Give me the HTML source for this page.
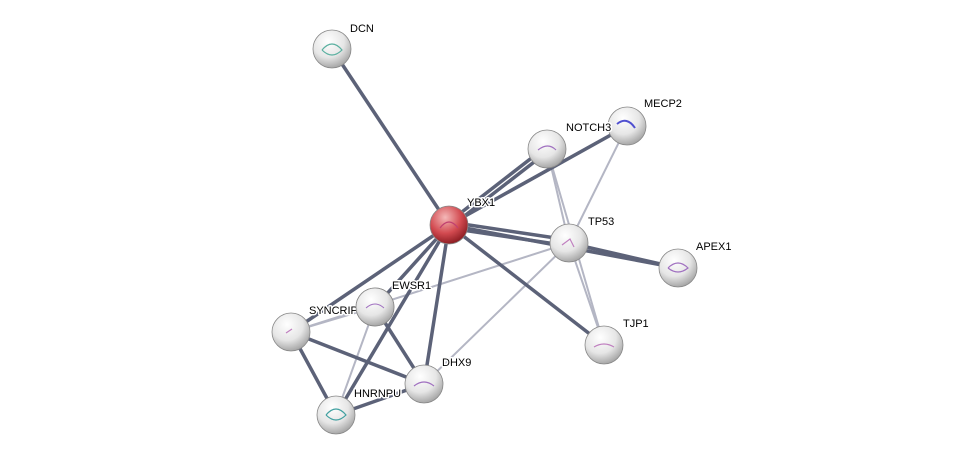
<!DOCTYPE html>
<html><head><style>
html,body{margin:0;padding:0;background:#fff;}
svg{display:block}
text{font-family:"Liberation Sans",sans-serif;font-size:11px;fill:#000;stroke:#fff;stroke-width:3px;paint-order:stroke;stroke-linejoin:round;}
</style></head><body>
<svg width="976" height="460" viewBox="0 0 976 460" xmlns="http://www.w3.org/2000/svg">
<defs>
<radialGradient id="g" cx="40%" cy="30%" r="70%">
<stop offset="0" stop-color="#ffffff"/><stop offset="0.6" stop-color="#e6e6e6"/><stop offset="1" stop-color="#a8a8a8"/>
</radialGradient>
<radialGradient id="r" cx="40%" cy="30%" r="70%">
<stop offset="0" stop-color="#f4b8b8"/><stop offset="0.6" stop-color="#d24a50"/><stop offset="1" stop-color="#8e1e24"/>
</radialGradient>
</defs>
<g stroke="#b4b6c4" stroke-width="2" fill="none">
<line x1="547" y1="149" x2="569" y2="243"/>
<line x1="547" y1="149" x2="604" y2="345"/>
<line x1="627" y1="126" x2="569" y2="243"/>
<line x1="569" y1="243" x2="604" y2="345"/>
<line x1="569" y1="243" x2="424" y2="384"/>
<line x1="569" y1="243" x2="291" y2="332"/>
<line x1="375" y1="307" x2="291" y2="332"/>
<line x1="375" y1="307" x2="336" y2="415"/>
</g>
<g stroke="#5c6278" stroke-width="3.5" fill="none">
<line x1="449" y1="225" x2="332" y2="49"/>
<line x1="449" y1="222" x2="547" y2="146"/>
<line x1="449" y1="228" x2="547" y2="152"/>
<line x1="449" y1="225" x2="627" y2="126"/>
<line x1="449" y1="222" x2="569" y2="240"/>
<line x1="449" y1="228" x2="569" y2="246"/>
<line x1="449" y1="225" x2="678" y2="268"/>
<line x1="569" y1="243" x2="678" y2="268"/>
<line x1="449" y1="225" x2="604" y2="345"/>
<line x1="449" y1="225" x2="291" y2="332"/>
<line x1="449" y1="225" x2="375" y2="307"/>
<line x1="449" y1="225" x2="336" y2="415"/>
<line x1="449" y1="225" x2="424" y2="384"/>
<line x1="291" y1="332" x2="424" y2="384"/>
<line x1="291" y1="332" x2="336" y2="415"/>
<line x1="375" y1="307" x2="424" y2="384"/>
<line x1="336" y1="415" x2="424" y2="384"/>
</g>
<g stroke="#888" stroke-width="0.8">
<circle cx="332" cy="49" r="19" fill="url(#g)"/>
<circle cx="547" cy="149" r="19" fill="url(#g)"/>
<circle cx="627" cy="126" r="19" fill="url(#g)"/>
<circle cx="569" cy="243" r="19" fill="url(#g)"/>
<circle cx="678" cy="268" r="19" fill="url(#g)"/>
<circle cx="604" cy="345" r="19" fill="url(#g)"/>
<circle cx="291" cy="332" r="19" fill="url(#g)"/>
<circle cx="375" cy="307" r="19" fill="url(#g)"/>
<circle cx="424" cy="384" r="19" fill="url(#g)"/>
<circle cx="336" cy="415" r="19" fill="url(#g)"/>
<circle cx="449" cy="225" r="19" fill="url(#r)"/>
</g>
<g fill="none" stroke-width="1.2">
<path d="M322 50 q10 -12 20 0 q-10 10 -20 0" stroke="#5ab0a0"/>
<path d="M538 150 q10 -8 18 0" stroke="#a070c0"/>
<path d="M617 124 q10 -8 18 4" stroke="#5050d0" stroke-width="2"/>
<path d="M562 245 l8 -6 l4 8" stroke="#c080c0"/>
<path d="M668 268 q10 -10 20 0 q-10 8 -20 0" stroke="#a070c0"/>
<path d="M594 347 q10 -6 20 0" stroke="#c080c0"/>
<path d="M440 228 q9 -12 18 0" stroke="#c04070"/>
<path d="M414 386 q10 -8 20 0" stroke="#a070c0"/>
<path d="M326 415 q10 -12 20 0 q-10 10 -20 0" stroke="#40a0a0"/>
<path d="M286 333 l6 -4" stroke="#c080c0"/>
</g>
<text x="350" y="32">DCN</text>
<text x="467" y="206">YBX1</text>
<text x="566" y="131">NOTCH3</text>
<text x="644" y="107">MECP2</text>
<text x="588" y="225">TP53</text>
<text x="696" y="250">APEX1</text>
<text x="623" y="327">TJP1</text>
<text x="309" y="314">SYNCRIP</text>
<circle cx="375" cy="307" r="19" fill="url(#g)" stroke="#888" stroke-width="0.8"/>
<path d="M366 308 q9 -8 18 0" stroke="#a070c0" fill="none"/>
<text x="392" y="289">EWSR1</text>
<text x="442" y="366">DHX9</text>
<text x="354" y="397">HNRNPU</text>
</svg>
</body></html>
